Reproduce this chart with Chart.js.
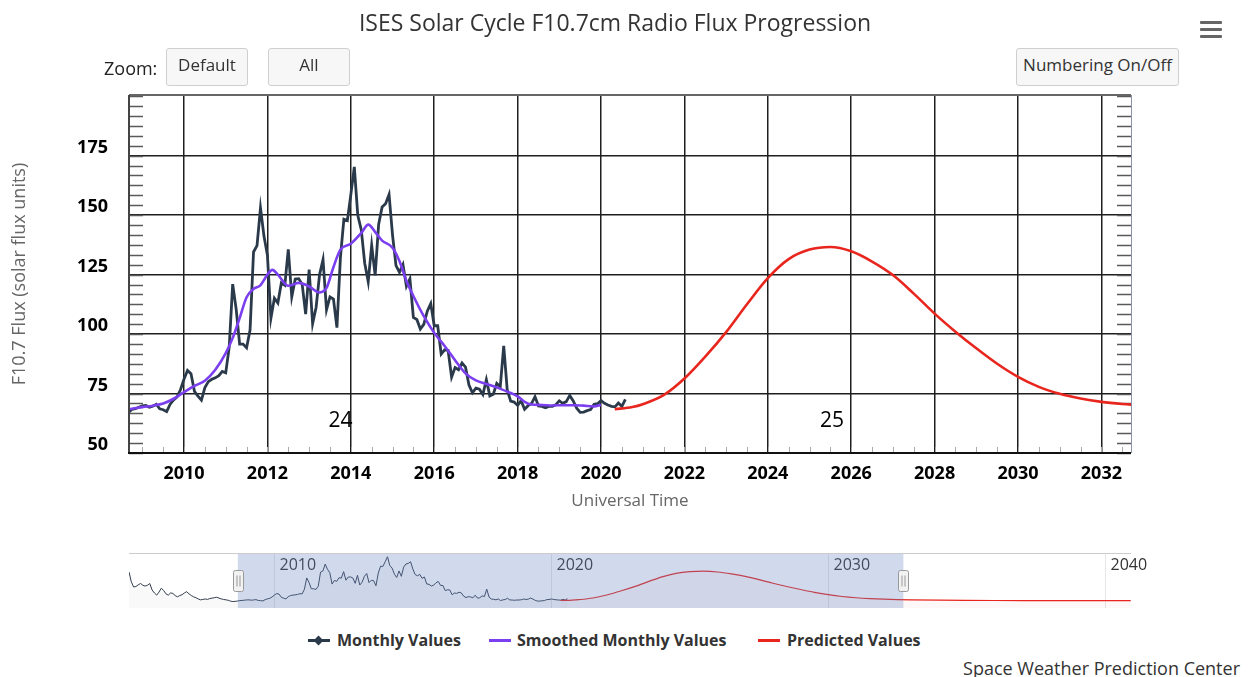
<!DOCTYPE html>
<html>
<head>
<meta charset="utf-8">
<script src="https://cdn.jsdelivr.net/npm/chart.js@4.4.1/dist/chart.umd.min.js"></script>
<style>
body{margin:0;background:#fff;font-family:"Open Sans",sans-serif;}
#wrap{position:relative;width:1252px;height:677px;overflow:hidden;background:#fff;}
canvas{position:absolute;left:0;}
#mainChart{top:0;}
#navChart{top:540px;}
#title{position:absolute;left:0;width:1230px;top:6px;line-height:32px;text-align:center;font-size:23px;color:#333;}
#zoomLabel{position:absolute;left:104px;top:55px;line-height:26px;font-size:18px;color:#222;}
.btn{position:absolute;top:48px;height:38px;box-sizing:border-box;border:1px solid #cfcfcf;border-radius:3px;background:#f7f7f7;font-size:17px;color:#333;text-align:center;line-height:32px;}
#menu span{position:absolute;left:1200px;width:22px;height:3px;background:#666;border-radius:1px;}
.lg{position:absolute;top:630px;line-height:20px;font-size:16px;font-weight:bold;color:#333;white-space:nowrap;}
.sym{position:absolute;top:639px;width:22px;height:3px;}
#dia{position:absolute;left:315px;top:637px;width:7px;height:7px;background:#2b3a4b;transform:rotate(45deg);}
#credits{position:absolute;right:12px;top:656px;line-height:24px;font-size:18px;color:#333;}
</style>
</head>
<body>
<div id="wrap">
  <canvas id="mainChart" width="1252" height="530"></canvas>
  <canvas id="navChart" width="1252" height="85"></canvas>
  <div id="title">ISES Solar Cycle F10.7cm Radio Flux Progression</div>
  <div id="zoomLabel">Zoom:</div>
  <div class="btn" style="left:166px;width:82px">Default</div>
  <div class="btn" style="left:268px;width:82px">All</div>
  <div class="btn" style="left:1016px;width:163px">Numbering On/Off</div>
  <div id="menu"><span style="top:21px"></span><span style="top:28px"></span><span style="top:35px"></span></div>
  <div class="sym" style="left:308px;background:#2b3a4b"></div><div id="dia"></div>
  <div class="lg" style="left:337px">Monthly Values</div>
  <div class="sym" style="left:489px;background:#7b3ff0"></div>
  <div class="lg" style="left:517px">Smoothed Monthly Values</div>
  <div class="sym" style="left:758px;background:#e8261e"></div>
  <div class="lg" style="left:787px">Predicted Values</div>
  <div id="credits">Space Weather Prediction Center</div>
</div>
<script>
// observed monthly F10.7, first value is Oct 2004
const monthlyStart = {year: 2004, month: 10};
const monthlyValues = [
  135, 112, 100,
  101, 105, 108, 104, 102, 104, 108, 93, 86, 81, 88, 97,
  92, 84, 81, 86, 85, 80, 77, 80, 82, 86, 89, 84,
  80, 77, 75, 72, 70, 71, 72, 71, 73, 74, 75, 76,
  74, 72, 71, 70, 69, 67, 66, 66.5, 67.1, 68.3, 68.6, 69.2,
  69.8, 70.0, 69.2, 69.7, 70.5, 68.6, 68.2, 67.4, 70.5, 72.3, 73.6, 76.7,
  81.1, 84.7, 83.3, 75.9, 73.9, 72.2, 77.5, 80.0, 81.0, 81.6, 82.5, 84.3,
  83.7, 94.5, 121.0, 110.5, 95.8, 95.8, 94.2, 101.7, 134.5, 137.2, 153.1, 141.2,
  133.1, 106.7, 115.1, 113.1, 121.5, 120.5, 135.6, 115.7, 123.1, 123.3, 120.9, 108.4,
  127.1, 104.4, 111.2, 125.0, 131.3, 110.2, 115.6, 114.7, 102.7, 132.1, 148.3, 147.7,
  158.6, 170.3, 149.9, 143.9, 129.8, 122.0, 137.3, 124.7, 146.1, 153.4, 154.8, 158.7,
  141.6, 128.8, 126.0, 129.2, 120.1, 123.2, 107.0, 106.1, 102.1, 104.1, 109.6, 112.8,
  103.5, 103.5, 91.6, 93.4, 93.1, 81.9, 85.9, 85.0, 87.8, 86.1, 78.6, 75.3,
  77.3, 76.8, 74.6, 80.8, 74.0, 74.7, 79.3, 77.8, 95.0, 76.6, 71.8, 71.4,
  70.0, 72.0, 68.4, 69.9, 70.8, 73.7, 69.8, 69.6, 69.0, 69.6, 69.6, 70.3,
  71.9, 70.9, 71.6, 74.2, 71.9, 68.8, 67.1, 67.2, 67.8, 68.3, 70.5, 70.7,
  72.0, 70.9, 70.2, 69.6, 69.4, 71.0, 69.6, 72.5
];

const smoothedYears = [2008.58, 2008.75, 2009.0, 2009.25, 2009.5, 2009.75, 2010.0, 2010.25, 2010.5, 2010.75,
  2011.0, 2011.17, 2011.33, 2011.5, 2011.67, 2011.83, 2012.0, 2012.12, 2012.25, 2012.5, 2012.75,
  2013.0, 2013.25, 2013.42, 2013.58, 2013.75, 2014.0, 2014.25, 2014.42, 2014.58, 2014.75,
  2015.0, 2015.17, 2015.33, 2015.5, 2015.75, 2016.0, 2016.25, 2016.5, 2016.75,
  2017.0, 2017.25, 2017.5, 2017.75, 2018.0, 2018.17, 2018.33, 2018.58, 2018.83,
  2019.08, 2019.33, 2019.58, 2019.83, 2020.0];
const smoothedValues = [68.3, 68.6, 69.3, 69.9, 70.8, 72.8, 75.6, 78.2, 80.4, 85.0,
  92.0, 98.5, 106.5, 115.5, 119.0, 120.5, 125.0, 127.0, 125.0, 120.3, 121.5,
  120.0, 117.5, 119.5, 128.0, 135.5, 138.0, 142.5, 146.0, 143.0, 139.3,
  136.3, 130.5, 122.5, 116.0, 107.5, 100.5, 95.0, 89.0, 83.5,
  80.5, 79.0, 77.6, 75.8, 73.8, 71.5, 70.4, 70.2, 70.0,
  70.1, 70.1, 69.9, 69.6, 70.2];

const predictedYears = [2020.33, 2020.75, 2021.0, 2021.5, 2022.0, 2022.5, 2023.0, 2023.5, 2024.0, 2024.5,
  2025.0, 2025.5, 2026.0, 2026.5, 2027.0, 2027.5, 2028.0, 2028.5, 2029.0, 2029.5,
  2030.0, 2030.5, 2031.0, 2031.5, 2032.0, 2032.5, 2033.0, 2034.0, 2035.0, 2036.0,
  2037.0, 2038.0, 2039.0, 2040.0, 2040.92];
const predictedValues = [68.4, 69.3, 70.5, 74.3, 81.3, 90.5, 100.8, 112.5, 123.5, 131.5,
  135.5, 136.6, 134.8, 130.5, 124.8, 117.0, 108.6, 101.0, 94.0, 87.5,
  82.0, 77.8, 74.9, 72.9, 71.5, 70.6, 70.0, 69.2, 68.7, 68.4,
  68.2, 68.1, 68.0, 68.0, 68.0];

const yearTicks = [2010, 2012, 2014, 2016, 2018, 2020, 2022, 2024, 2026, 2028, 2030, 2032];
const fluxTicks = [50, 75, 100, 125, 150, 175];
const navTicks = [2010, 2020, 2030, 2040];
const cycleNumbers = ['24', '25'];
const cycleCentres = [2013.75, 2025.54];

const viewMin = 2008.68, viewMax = 2032.71;

Chart.defaults.font.family = '"Open Sans", sans-serif';

function monthlyPoints() {
    return monthlyValues.map((v, i) => {
        const m = monthlyStart.month - 1 + i;
        return {x: monthlyStart.year + Math.floor(m / 12) + (m % 12) / 12, y: v};
    });
}
function pairs(xs, ys) {
    return xs.map((x, i) => ({x: x, y: ys[i]}));
}

const plotDecor = {
    id: 'plotDecor',
    beforeDatasetsDraw(chart) {
        const {ctx, chartArea: a, scales: {x, y}} = chart;
        ctx.save();
        ctx.lineWidth = 1.5;
        ctx.strokeStyle = '#5a5a5a';
        for (let k = 0; k <= 36; k++) {
            const py = Math.round(y.getPixelForValue(50 + k * 25 / 6)) + 0.5;
            if (py < a.top) continue;
            ctx.beginPath();
            ctx.moveTo(a.left, py); ctx.lineTo(a.left + 14, py);
            ctx.moveTo(a.right - 14, py); ctx.lineTo(a.right, py);
            ctx.stroke();
        }
        ctx.lineWidth = 1;
        ctx.strokeStyle = '#aaa';
        for (let t = Math.ceil(x.min * 2) / 2; t <= x.max; t += 0.5) {
            const px = Math.round(x.getPixelForValue(t)) + 0.5;
            ctx.beginPath();
            ctx.moveTo(px, a.bottom); ctx.lineTo(px, a.bottom - 6);
            ctx.stroke();
        }
        ctx.restore();
    },
    afterDatasetsDraw(chart) {
        const {ctx, chartArea: a, scales: {x, y}} = chart;
        ctx.save();
        ctx.lineWidth = 2;
        ctx.strokeStyle = '#666';
        ctx.beginPath(); ctx.moveTo(a.left, a.top); ctx.lineTo(a.right, a.top); ctx.stroke();
        ctx.strokeStyle = '#444';
        ctx.beginPath(); ctx.moveTo(a.left, a.top); ctx.lineTo(a.left, a.bottom); ctx.stroke();
        ctx.strokeStyle = '#111';
        ctx.beginPath(); ctx.moveTo(a.left - 1, a.bottom); ctx.lineTo(a.right, a.bottom); ctx.stroke();
        ctx.lineWidth = 1;
        ctx.strokeStyle = '#8a93a6';
        ctx.beginPath(); ctx.moveTo(a.right + 0.5, a.top); ctx.lineTo(a.right + 0.5, a.bottom); ctx.stroke();

        ctx.fillStyle = '#000';
        ctx.font = '21px "Open Sans"';
        ctx.textAlign = 'center';
        ctx.textBaseline = 'middle';
        cycleNumbers.forEach((s, i) => {
            ctx.fillText(s, x.getPixelForValue(cycleCentres[i]), y.getPixelForValue(63.3));
        });
        ctx.restore();
    }
};

new Chart(document.getElementById('mainChart'), {
    type: 'line',
    data: {
        datasets: [{
            label: 'Predicted Values',
            data: pairs(predictedYears, predictedValues),
            borderColor: '#e8261e',
            borderWidth: 2.6,
            pointRadius: 0,
            cubicInterpolationMode: 'monotone'
        }, {
            label: 'Smoothed Monthly Values',
            data: pairs(smoothedYears, smoothedValues),
            borderColor: '#7b3ff0',
            borderWidth: 2.6,
            pointRadius: 0,
            cubicInterpolationMode: 'monotone'
        }, {
            label: 'Monthly Values',
            data: monthlyPoints(),
            borderColor: '#2b3a4b',
            borderWidth: 2.8,
            pointRadius: 0,
            tension: 0
        }]
    },
    options: {
        responsive: false,
        animation: false,
        events: [],
        layout: {padding: {left: 0, top: 95, right: 121, bottom: 17}},
        plugins: {legend: {display: false}, tooltip: {enabled: false}},
        scales: {
            x: {
                type: 'linear',
                min: viewMin,
                max: viewMax,
                afterBuildTicks: s => { s.ticks = yearTicks.map(v => ({value: v})); },
                afterFit: s => { s.height = 60; },
                grid: {color: '#1e1e1e', lineWidth: 1.5, drawTicks: false},
                border: {display: false},
                ticks: {
                    padding: 10, color: '#000', autoSkip: false, maxRotation: 0,
                    font: {size: 18, weight: 'bold'},
                    callback: v => String(v)
                },
                title: {display: true, text: 'Universal Time', color: '#666', font: {size: 17}, padding: {bottom: 2}}
            },
            y: {
                min: 50,
                max: 200.5,
                afterBuildTicks: s => { s.ticks = fluxTicks.map(v => ({value: v})); },
                afterFit: s => { s.width = 129; },
                grid: {color: '#1e1e1e', lineWidth: 1.5, drawTicks: false},
                border: {display: false},
                ticks: {padding: 21, labelOffset: -8, color: '#000', font: {size: 18, weight: 'bold'}},
                title: {display: true, text: 'F10.7 Flux (solar flux units)', color: '#666', font: {size: 18}, padding: {top: 9}}
            }
        }
    },
    plugins: [plotDecor]
});

const navDecor = {
    id: 'navDecor',
    beforeDatasetsDraw(chart) {
        const {ctx, chartArea: a, scales: {x}} = chart;
        ctx.save();
        ctx.strokeStyle = '#e6e6e6';
        ctx.lineWidth = 1;
        ctx.fillStyle = '#333';
        ctx.font = '16px "Open Sans"';
        ctx.textBaseline = 'middle';
        navTicks.forEach(t => {
            const px = Math.round(x.getPixelForValue(t)) + 0.5;
            ctx.beginPath(); ctx.moveTo(px, a.top); ctx.lineTo(px, a.bottom); ctx.stroke();
            ctx.fillText(String(t), px + 5, a.top + 12);
        });
        ctx.restore();
    },
    afterDatasetsDraw(chart) {
        const {ctx, chartArea: a, scales: {x}} = chart;
        const x0 = x.getPixelForValue(viewMin), x1 = x.getPixelForValue(viewMax);
        ctx.save();
        ctx.fillStyle = 'rgba(102,133,194,0.3)';
        ctx.fillRect(x0, a.top, x1 - x0, a.bottom - a.top);
        ctx.strokeStyle = '#cccccc';
        ctx.lineWidth = 1;
        ctx.beginPath(); ctx.moveTo(a.left, a.top + 0.5); ctx.lineTo(a.right, a.top + 0.5); ctx.stroke();
        const hy = (a.top + a.bottom) / 2;
        [x0, x1].forEach(hx => {
            const l = Math.round(hx - 5) + 0.5, t = Math.round(hy - 11) + 0.5;
            ctx.fillStyle = '#f2f2f2';
            ctx.strokeStyle = '#999';
            ctx.beginPath();
            ctx.roundRect(l, t, 10, 21, 2);
            ctx.fill(); ctx.stroke();
            ctx.beginPath();
            ctx.moveTo(l + 3.5, t + 5); ctx.lineTo(l + 3.5, t + 16);
            ctx.moveTo(l + 6.5, t + 5); ctx.lineTo(l + 6.5, t + 16);
            ctx.stroke();
        });
        ctx.restore();
    }
};

new Chart(document.getElementById('navChart'), {
    type: 'line',
    data: {
        datasets: [{
            data: pairs(predictedYears, predictedValues),
            borderColor: '#e8261e',
            borderWidth: 1.2,
            pointRadius: 0,
            fill: 'start',
            backgroundColor: 'rgba(232,38,30,0.03)',
            cubicInterpolationMode: 'monotone'
        }, {
            data: monthlyPoints(),
            borderColor: '#333d4d',
            borderWidth: 1,
            pointRadius: 0,
            fill: 'start',
            backgroundColor: 'rgba(51,61,77,0.03)',
            tension: 0
        }]
    },
    options: {
        responsive: false,
        animation: false,
        events: [],
        layout: {padding: {left: 129, top: 13, right: 121, bottom: 17}},
        plugins: {legend: {display: false}, tooltip: {enabled: false}},
        scales: {
            x: {type: 'linear', min: 2004.75, max: 2040.93, display: false},
            y: {min: 51, max: 179, display: false}
        }
    },
    plugins: [navDecor]
});
</script>
</body>
</html>
